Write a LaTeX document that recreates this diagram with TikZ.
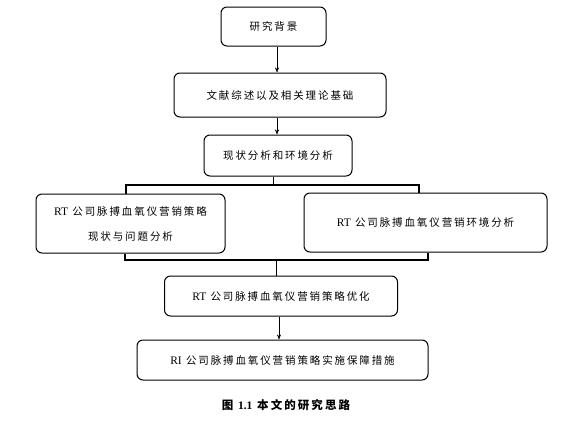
\documentclass[tikz,border=0pt]{standalone}
\usepackage{fontspec}
\setmainfont{Liberation Serif}
\newfontfamily\cjk[LetterSpace=18]{Noto Sans CJK SC}
\usetikzlibrary{arrows.meta}

\begin{document}
\begin{tikzpicture}[x=1pt,y=-1pt,
	stepbox/.style={draw,line width=1pt,rounded corners=6pt,inner sep=0pt,
		font=\fontsize{10.5}{25}\selectfont\cjk,align=center},
	bar/.style={line width=1.6pt},
	>={Stealth[length=5pt,width=4pt]}]
	\useasboundingbox (0,0) rectangle (567,421);
	\node[stepbox,minimum width=105pt,minimum height=39pt] (bg) at (273.5,26.5) {研究背景}; 
	\node[stepbox,minimum width=212pt,minimum height=44pt] (lit) at (280,95) {文献综述以及相关理论基础};
	\node[stepbox,minimum width=148pt,minimum height=41pt] (ana) at (278,155.5) {现状分析和环境分析};
	\node[stepbox,minimum width=189pt,minimum height=59pt] (cur) at (130.5,223.5) {{\rmfamily\fontsize{11.5}{25}\selectfont RT} 公司脉搏血氧仪营销策略\\现状与问题分析};
	\node[stepbox,minimum width=243pt,minimum height=59pt] (env) at (425.5,222.5) {{\rmfamily\fontsize{11.5}{25}\selectfont RT} 公司脉搏血氧仪营销环境分析};
	\node[stepbox,minimum width=233pt,minimum height=40pt] (opt) at (281,296) {{\rmfamily\fontsize{11.5}{25}\selectfont RT} 公司脉搏血氧仪营销策略优化};
	\node[stepbox,minimum width=291pt,minimum height=40pt] (sup) at (282.5,360) {{\rmfamily\fontsize{11.5}{25}\selectfont RI} 公司脉搏血氧仪营销策略实施保障措施};
	\node[font=\fontsize{11.5}{14}\selectfont\cjk\bfseries] (cap) at (286,405) {图 {\rmfamily 1.1} 本文的研究思路};

	\coordinate (axis) at (277,0);
	\coordinate (topl) at (126,185);
	\coordinate (topr) at (419,185);
	\coordinate (botl) at (125,260);
	\coordinate (botr) at (428,260);

	\draw[->] (bg.south -| axis) -- (lit.north -| axis);
	\draw[->] (lit.south -| axis) -- (ana.north -| axis);
	\draw (ana.south -| 273,0) -- (topl -| 273,0);
	\draw[bar] (cur.north -| topl) -- (topl) -- (topr) -- (env.north -| topr);
	\draw[bar] (cur.south -| botl) -- (botl) -- (botr) -- (env.south -| botr);
	\draw (botl -| 276,0) -- (opt.north -| 276,0);
	\draw[->] (opt.south -| 279,0) -- (sup.north -| 279,0);
\end{tikzpicture}
\end{document}
